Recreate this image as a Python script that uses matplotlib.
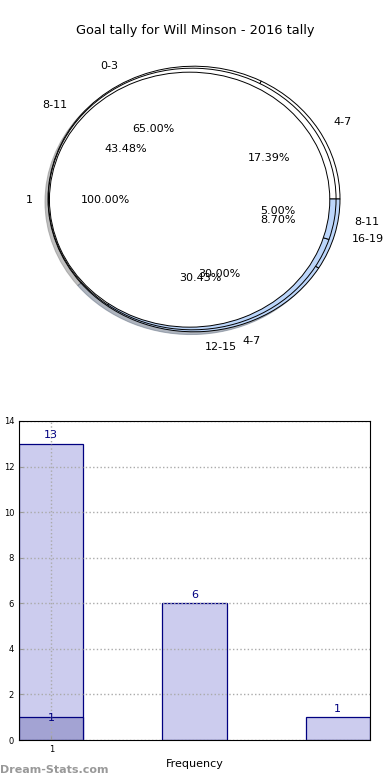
import matplotlib.pyplot as plt

title = 'Goal tally for Will Minson - 2016 tally'

# pie rings
ring_a_labels = ['4-7', '8-11', '12-15', '16-19']
ring_a_values = [4, 10, 7, 2]
ring_b_labels = ['0-3', '4-7', '8-11']
ring_b_values = [13, 6, 1]
ring_c_labels = ['1']
ring_c_values = [1]

# bars
bar_pos = [1, 2, 3]
bar_values = [13, 6, 1]
over_pos = [1]
over_values = [1]
xtick_labels = ['1']

blue = '#bcd6fb'


def main():
    fig = plt.figure(figsize=(3.9, 7.8), dpi=100)
    fig.text(0.5, 0.961, title, ha='center', va='center', fontsize=9.3)

    ax = fig.add_axes([11.5 / 390, 1 - 365 / 780, 365 / 390, 332 / 780])
    kw = dict(autopct='%.2f%%', pctdistance=0.6, textprops={'fontsize': 8},
              wedgeprops={'edgecolor': 'black', 'linewidth': 0.7})
    ax.pie(ring_a_values, labels=ring_a_labels, radius=1.0, labeldistance=1.12,
           colors=['white', 'white', blue, blue],
           shadow={'ox': -0.015, 'oy': -0.015, 'shade': 0.5}, **kw)
    ax.pie(ring_b_values, labels=ring_b_labels, radius=0.985, center=(-0.012, 0),
           labeldistance=1.14, colors=['white', blue, blue], **kw)
    ax.pie(ring_c_values, labels=ring_c_labels, radius=0.96,
           center=(-0.03, -0.005), labeldistance=1.12, colors=['white'], **kw)
    ax.set_aspect('auto')
    ax.set_xlim(-1.25, 1.25)
    ax.set_ylim(-1.25, 1.25)

    bx = fig.add_axes([19 / 390, 1 - 740 / 780, 351 / 390, 319 / 780])
    bx.bar(bar_pos, bar_values, width=0.45, color='#ccccee', edgecolor='navy', linewidth=0.9)
    bx.bar(over_pos, over_values, width=0.45, color='#a3a3d3', edgecolor='navy', linewidth=0.9)
    for x, v in zip(bar_pos, bar_values):
        bx.text(x, v + 0.15, str(v), ha='center', va='bottom', color='navy', fontsize=8)
    for x, v in zip(over_pos, over_values):
        bx.text(x, v - 0.05, str(v), ha='center', va='center', color='navy', fontsize=8)

    bx.set_xlim(0.775, 3.225)
    bx.set_ylim(0, 14)
    bx.set_yticks(range(0, 15, 2))
    bx.set_xticks(bar_pos[:1])
    bx.set_xticklabels(xtick_labels)
    bx.tick_params(labelsize=6, length=3, color='#999999', direction='in')
    bx.grid(True, linestyle=':', color='#aaaaaa', linewidth=1)
    bx.set_axisbelow(False)
    for s in bx.spines.values():
        s.set_zorder(3)
    bx.set_xlabel('Frequency', fontsize=8)
    bx.set_ylabel('Goal Interval', fontsize=7)
    bx.yaxis.set_label_coords(-0.054, 0.5)

    fig.text(0.0, 0.013, 'Dream-Stats.com', ha='left', va='center', fontsize=8,
             color='#999999', fontweight='bold')

    fig.savefig('out.png', dpi=100)


if __name__ == '__main__':
    main()
